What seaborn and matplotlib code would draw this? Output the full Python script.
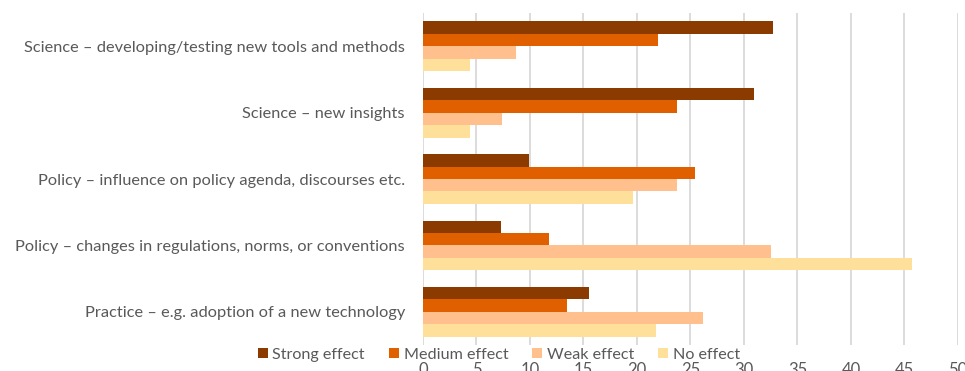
import matplotlib
matplotlib.use("Agg")
import matplotlib.pyplot as plt
import seaborn as sns
import pandas as pd

categories = [
    "Science – developing/testing new tools and methods",
    "Science – new insights",
    "Policy – influence on policy agenda, discourses etc.",
    "Policy – changes in regulations, norms, or conventions",
    "Practice – e.g. adoption of a new technology",
]
series = ["Strong effect", "Medium effect", "Weak effect", "No effect"]
strong = [32.7, 30.9, 9.9, 7.3, 15.5]
medium = [22.0, 23.7, 25.4, 11.8, 13.5]
weak = [8.7, 7.4, 23.7, 32.5, 26.2]
none_ = [4.4, 4.4, 19.6, 45.7, 21.8]
colors = ["#8B3A00", "#E06000", "#FFC08E", "#FFE09A"]
xticks = list(range(0, 55, 5))

rows = []
for s, vals in zip(series, [strong, medium, weak, none_]):
    for c, v in zip(categories, vals):
        rows.append({"category": c, "series": s, "value": v})
df = pd.DataFrame(rows)

sns.set_theme(style="white")
plt.rcParams["font.family"] = ["Lato", "DejaVu Sans"]

fig = plt.figure(figsize=(9.65, 3.71), dpi=100)
ax = fig.add_axes([0.4383, 0.070, 0.5544, 0.895])

sns.barplot(data=df, y="category", x="value", hue="series", order=categories,
            hue_order=series, palette=colors, orient="h", width=0.75,
            linewidth=0, saturation=1, ax=ax, legend=True)

ax.set_xlim(0, 50)
ax.set_xticks(xticks)
ax.set_xticklabels([str(t) for t in xticks])
ax.grid(axis="x", color="#D9D9D9", linewidth=1.3)
ax.set_axisbelow(True)
for sp in ax.spines.values():
    sp.set_visible(False)
ax.set_xlabel("")
ax.set_ylabel("")
ax.tick_params(axis="x", length=0, pad=12, labelsize=12, labelcolor="#595959")
ax.tick_params(axis="y", length=0, pad=13, labelsize=11.8, labelcolor="#595959")

handles, labels = ax.get_legend_handles_labels()
ax.get_legend().remove()
fig.legend(handles, labels, loc="center", bbox_to_anchor=(0.517, 0.043), ncol=4,
           frameon=False, fontsize=11.6, labelcolor="#595959", handlelength=0.6,
           handleheight=0.6, handletextpad=0.3, columnspacing=1.5)

fig.savefig("out.png", dpi=100)
